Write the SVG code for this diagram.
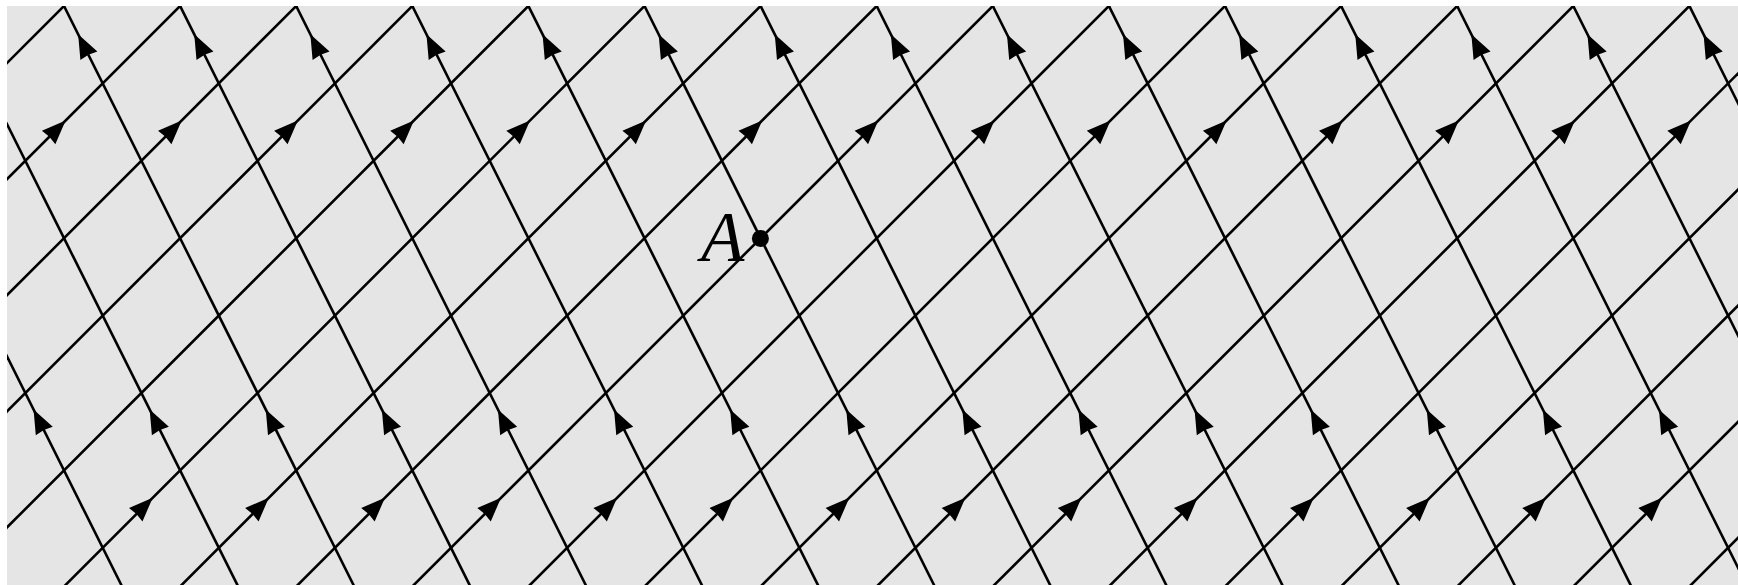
<svg xmlns="http://www.w3.org/2000/svg" xmlns:xlink="http://www.w3.org/1999/xlink" width="1738" height="585" viewBox="0 0 1738 585">
<style>
.ln{stroke:#000;stroke-width:2.6;fill:none}
.lbl{font-family:"Liberation Serif","Times New Roman",serif;font-style:italic;font-size:71px;fill:#000}
</style>
<defs>
<clipPath id="clip"><rect x="7" y="6" width="1731" height="579"/></clipPath>
<path id="ah" d="M0,0 L-24,-9.5 L-23,0 L-24,9.5 Z" fill="#000"/>
<line id="la" class="ln" x1="-530" y1="600" x2="80" y2="-10"/>
<line id="lb" class="ln" x1="-176.2" y1="-10" x2="128.8" y2="600"/>
<use id="aA" xlink:href="#ah" transform="rotate(-45)"/>
<use id="aB" xlink:href="#ah" transform="rotate(-116.565)"/>
</defs>
<rect id="bg" x="7" y="6" width="1731" height="579" fill="#e5e5e5"/>
<g id="connectors" clip-path="url(#clip)">
<g id="linesA">
<use xlink:href="#la" transform="translate(0,0)"/>
<use xlink:href="#la" transform="translate(116.1,0)"/>
<use xlink:href="#la" transform="translate(232.2,0)"/>
<use xlink:href="#la" transform="translate(348.3,0)"/>
<use xlink:href="#la" transform="translate(464.4,0)"/>
<use xlink:href="#la" transform="translate(580.5,0)"/>
<use xlink:href="#la" transform="translate(696.6,0)"/>
<use xlink:href="#la" transform="translate(812.7,0)"/>
<use xlink:href="#la" transform="translate(928.8,0)"/>
<use xlink:href="#la" transform="translate(1044.9,0)"/>
<use xlink:href="#la" transform="translate(1161,0)"/>
<use xlink:href="#la" transform="translate(1277.1,0)"/>
<use xlink:href="#la" transform="translate(1393.2,0)"/>
<use xlink:href="#la" transform="translate(1509.3,0)"/>
<use xlink:href="#la" transform="translate(1625.4,0)"/>
<use xlink:href="#la" transform="translate(1741.5,0)"/>
<use xlink:href="#la" transform="translate(1857.6,0)"/>
<use xlink:href="#la" transform="translate(1973.7,0)"/>
<use xlink:href="#la" transform="translate(2089.8,0)"/>
<use xlink:href="#la" transform="translate(2205.9,0)"/>
</g>
<g id="linesB">
<use xlink:href="#lb" transform="translate(0,0)"/>
<use xlink:href="#lb" transform="translate(116.1,0)"/>
<use xlink:href="#lb" transform="translate(232.2,0)"/>
<use xlink:href="#lb" transform="translate(348.3,0)"/>
<use xlink:href="#lb" transform="translate(464.4,0)"/>
<use xlink:href="#lb" transform="translate(580.5,0)"/>
<use xlink:href="#lb" transform="translate(696.6,0)"/>
<use xlink:href="#lb" transform="translate(812.7,0)"/>
<use xlink:href="#lb" transform="translate(928.8,0)"/>
<use xlink:href="#lb" transform="translate(1044.9,0)"/>
<use xlink:href="#lb" transform="translate(1161,0)"/>
<use xlink:href="#lb" transform="translate(1277.1,0)"/>
<use xlink:href="#lb" transform="translate(1393.2,0)"/>
<use xlink:href="#lb" transform="translate(1509.3,0)"/>
<use xlink:href="#lb" transform="translate(1625.4,0)"/>
<use xlink:href="#lb" transform="translate(1741.5,0)"/>
<use xlink:href="#lb" transform="translate(1857.6,0)"/>
</g>
<g id="arrowsAupper">
<use xlink:href="#aA" transform="translate(65.6,120.5)"/>
<use xlink:href="#aA" transform="translate(181.7,120.5)"/>
<use xlink:href="#aA" transform="translate(297.8,120.5)"/>
<use xlink:href="#aA" transform="translate(413.9,120.5)"/>
<use xlink:href="#aA" transform="translate(530,120.5)"/>
<use xlink:href="#aA" transform="translate(646.1,120.5)"/>
<use xlink:href="#aA" transform="translate(762.2,120.5)"/>
<use xlink:href="#aA" transform="translate(878.3,120.5)"/>
<use xlink:href="#aA" transform="translate(994.4,120.5)"/>
<use xlink:href="#aA" transform="translate(1110.5,120.5)"/>
<use xlink:href="#aA" transform="translate(1226.6,120.5)"/>
<use xlink:href="#aA" transform="translate(1342.7,120.5)"/>
<use xlink:href="#aA" transform="translate(1458.8,120.5)"/>
<use xlink:href="#aA" transform="translate(1574.9,120.5)"/>
<use xlink:href="#aA" transform="translate(1691,120.5)"/>
</g>
<g id="arrowsAlower">
<use xlink:href="#aA" transform="translate(152.7,497.8)"/>
<use xlink:href="#aA" transform="translate(268.8,497.8)"/>
<use xlink:href="#aA" transform="translate(384.9,497.8)"/>
<use xlink:href="#aA" transform="translate(501,497.8)"/>
<use xlink:href="#aA" transform="translate(617.1,497.8)"/>
<use xlink:href="#aA" transform="translate(733.2,497.8)"/>
<use xlink:href="#aA" transform="translate(849.3,497.8)"/>
<use xlink:href="#aA" transform="translate(965.4,497.8)"/>
<use xlink:href="#aA" transform="translate(1081.5,497.8)"/>
<use xlink:href="#aA" transform="translate(1197.6,497.8)"/>
<use xlink:href="#aA" transform="translate(1313.7,497.8)"/>
<use xlink:href="#aA" transform="translate(1429.8,497.8)"/>
<use xlink:href="#aA" transform="translate(1545.9,497.8)"/>
<use xlink:href="#aA" transform="translate(1662,497.8)"/>
</g>
<g id="arrowsBupper">
<use xlink:href="#aB" transform="translate(78.15,34.3)"/>
<use xlink:href="#aB" transform="translate(194.25,34.3)"/>
<use xlink:href="#aB" transform="translate(310.35,34.3)"/>
<use xlink:href="#aB" transform="translate(426.45,34.3)"/>
<use xlink:href="#aB" transform="translate(542.55,34.3)"/>
<use xlink:href="#aB" transform="translate(658.65,34.3)"/>
<use xlink:href="#aB" transform="translate(774.75,34.3)"/>
<use xlink:href="#aB" transform="translate(890.85,34.3)"/>
<use xlink:href="#aB" transform="translate(1006.95,34.3)"/>
<use xlink:href="#aB" transform="translate(1123.05,34.3)"/>
<use xlink:href="#aB" transform="translate(1239.15,34.3)"/>
<use xlink:href="#aB" transform="translate(1355.25,34.3)"/>
<use xlink:href="#aB" transform="translate(1471.35,34.3)"/>
<use xlink:href="#aB" transform="translate(1587.45,34.3)"/>
<use xlink:href="#aB" transform="translate(1703.55,34.3)"/>
</g>
<g id="arrowsBlower">
<use xlink:href="#aB" transform="translate(33.55,409.5)"/>
<use xlink:href="#aB" transform="translate(149.65,409.5)"/>
<use xlink:href="#aB" transform="translate(265.75,409.5)"/>
<use xlink:href="#aB" transform="translate(381.85,409.5)"/>
<use xlink:href="#aB" transform="translate(497.95,409.5)"/>
<use xlink:href="#aB" transform="translate(614.05,409.5)"/>
<use xlink:href="#aB" transform="translate(730.15,409.5)"/>
<use xlink:href="#aB" transform="translate(846.25,409.5)"/>
<use xlink:href="#aB" transform="translate(962.35,409.5)"/>
<use xlink:href="#aB" transform="translate(1078.45,409.5)"/>
<use xlink:href="#aB" transform="translate(1194.55,409.5)"/>
<use xlink:href="#aB" transform="translate(1310.65,409.5)"/>
<use xlink:href="#aB" transform="translate(1426.75,409.5)"/>
<use xlink:href="#aB" transform="translate(1542.85,409.5)"/>
<use xlink:href="#aB" transform="translate(1658.95,409.5)"/>
</g>
</g>
<g id="pointA">
<circle cx="760.4" cy="238.4" r="8.5" fill="#000"/>
<text class="lbl" x="701" y="261">A</text>
</g>
</svg>
